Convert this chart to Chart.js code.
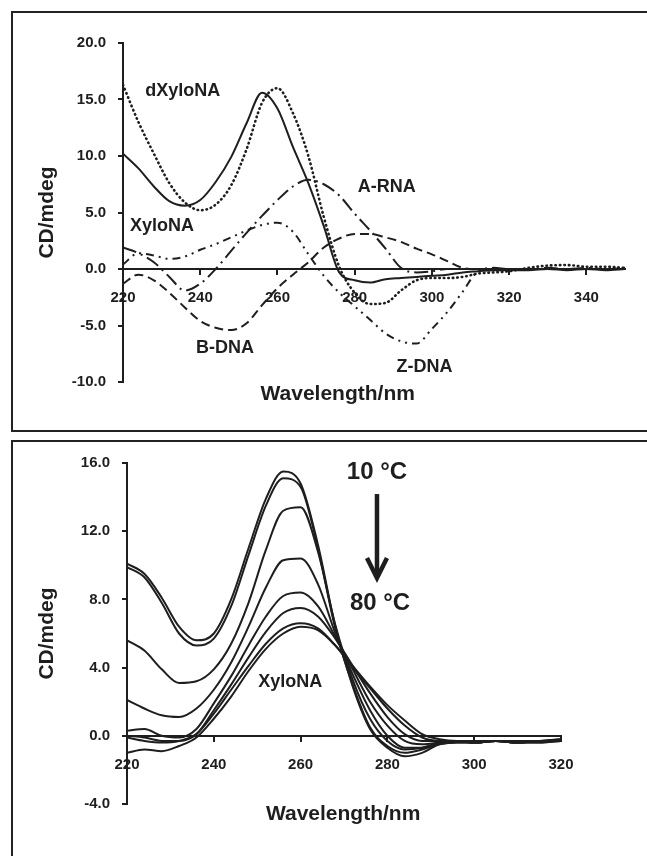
<!DOCTYPE html>
<html>
<head>
<meta charset="utf-8">
<script src="https://cdn.jsdelivr.net/npm/chart.js@4.4.1/dist/chart.umd.min.js"></script>
<style>
html, body { margin: 0; padding: 0; background: #fff; overflow: hidden; width: 647px; height: 856px; }
.box { position: absolute; border: 2px solid #222; border-right: none; box-sizing: border-box; }
#box1 { left: 11px; top: 11px; width: 700px; height: 421px; }
#box2 { left: 11px; top: 440px; width: 700px; height: 500px; border-bottom: none; }
.wrap { position: absolute; left: 0; width: 647px; }
#w1 { top: 0; height: 431px; }
#w2 { top: 441px; height: 415px; }
</style>
</head>
<body>
<div class="box" id="box1"></div>
<div class="box" id="box2"></div>
<div class="wrap" id="w1"><canvas id="c1" width="647" height="431"></canvas></div>
<div class="wrap" id="w2"><canvas id="c2" width="647" height="415"></canvas></div>
<script>
// top panel: CD spectra of the different duplexes
var topWave = [220,224,228,232,236,240,244,248,252,256,260,264,268,272,276,280,284,288,292,296,300,304,308,312,316,320,325,330,335,340,345,350];
var xyloNA  = [10.2,8.9,7.3,6.0,5.6,6.1,7.7,9.9,12.9,15.6,14.2,10.8,7.6,3.8,-0.3,-1.0,-1.2,-0.9,-0.8,-0.7,-0.6,-0.5,-0.3,-0.2,-0.1,-0.1,-0.1,0.0,-0.1,0.0,-0.1,0.0];
var dXyloNA = [16.3,13.0,10.2,7.6,5.9,5.2,5.7,7.4,10.6,14.7,16.0,13.8,10.0,4.6,0.2,-2.1,-3.1,-3.0,-1.9,-1.0,-0.8,-0.8,-0.7,-0.4,-0.3,-0.2,0.1,0.3,0.35,0.2,0.2,0.1];
var aRNA    = [1.9,1.4,0.6,-0.7,-1.9,-1.3,0.0,1.6,3.2,4.7,6.1,7.3,7.9,7.5,6.5,4.9,3.4,1.8,0.1,-0.3,-0.2,0.0,0.0,0.0,0.1,0.0,0.0,0.1,0.0,0.1,0.0,0.1];
var zDNA    = [0.4,1.4,1.2,0.9,1.1,1.7,2.2,2.8,3.4,3.9,4.1,3.3,1.3,-0.6,-2.1,-3.3,-4.5,-5.7,-6.4,-6.6,-5.3,-3.8,-2.0,-0.2,0.0,0.0,0.0,0.0,0.0,0.0,0.0,0.0];
var bDNA    = [-1.3,-0.5,-1.0,-2.1,-3.4,-4.6,-5.2,-5.4,-4.8,-3.2,-1.7,-0.5,0.6,1.9,2.7,3.1,3.1,2.8,2.4,1.8,1.3,0.7,0.1,0.0,0.0,0.0,0.0,0.0,0.0,0.0,0.0,0.0];
var topXTicks = [220,240,260,280,300,320,340];
var topYTicks = [-10,-5,0,5,10,15,20];

// bottom panel: XyloNA melting, 10 to 80 C
var botWave = [220,224,228,232,236,240,244,248,252,256,260,264,268,272,276,280,284,288,292,296,300,305,310,315,320];
var t10 = [10.1,9.5,8.1,6.4,5.6,6.0,8.0,11.0,13.9,15.5,14.8,11.2,6.4,2.9,0.4,-0.7,-1.2,-1.0,-0.5,-0.4,-0.4,-0.3,-0.4,-0.4,-0.3];
var t20 = [9.9,9.3,7.8,6.0,5.3,5.7,7.6,10.6,13.5,15.1,14.6,11.0,6.3,3.0,0.5,-0.6,-1.0,-0.8,-0.5,-0.4,-0.4,-0.3,-0.4,-0.4,-0.3];
var t30 = [5.6,5.0,3.9,3.1,3.2,3.9,5.4,7.8,10.9,13.2,13.4,10.8,6.5,3.3,1.0,-0.3,-0.8,-0.7,-0.4,-0.3,-0.4,-0.3,-0.4,-0.3,-0.3];
var t40 = [2.1,1.6,1.2,1.1,1.6,2.7,4.3,6.4,8.7,10.3,10.4,8.9,6.0,3.6,1.5,0.0,-0.7,-0.7,-0.4,-0.3,-0.4,-0.3,-0.4,-0.3,-0.3];
var t50 = [0.3,0.4,0.0,-0.1,0.4,1.9,3.5,5.3,7.0,8.2,8.4,7.6,5.8,3.9,2.0,0.6,-0.3,-0.5,-0.4,-0.3,-0.4,-0.3,-0.3,-0.3,-0.3];
var t60 = [0.0,-0.1,-0.3,-0.3,0.1,1.5,3.0,4.6,6.1,7.2,7.5,7.0,5.7,4.1,2.5,1.1,0.1,-0.3,-0.3,-0.3,-0.3,-0.3,-0.3,-0.3,-0.3];
var t70 = [-0.1,-0.3,-0.4,-0.3,0.1,1.3,2.7,4.1,5.4,6.3,6.6,6.3,5.3,4.0,2.8,1.6,0.6,-0.1,-0.3,-0.3,-0.3,-0.3,-0.4,-0.3,-0.2];
var t80 = [-1.0,-0.8,-0.9,-0.6,-0.1,1.0,2.3,3.8,5.1,6.0,6.4,6.2,5.3,4.1,2.9,1.8,0.9,0.1,-0.2,-0.3,-0.3,-0.3,-0.3,-0.3,-0.2];
var botXTicks = [220,240,260,280,300,320];
var botYTicks = [-4,0,4,8,12,16];

var FONT = '"Liberation Sans", Arial, sans-serif';
var INK = '#1e1e1e';

function pts(xs, ys) {
  return xs.map(function(x, i) { return {x: x, y: ys[i]}; });
}

function line(label, xs, ys, dash, width, cap) {
  return {
    label: label,
    data: pts(xs, ys),
    borderColor: INK,
    borderWidth: width || 2,
    borderDash: dash || [],
    borderCapStyle: cap || 'butt',
    pointRadius: 0,
    cubicInterpolationMode: 'monotone',
    fill: false
  };
}

// text labels (and the arrow) placed in data coordinates
function notes(items, arrow) {
  return {
    id: 'notes',
    afterDraw: function(chart) {
      var ctx = chart.ctx, sx = chart.scales.x, sy = chart.scales.y;
      ctx.save();
      ctx.fillStyle = INK;
      ctx.textAlign = 'center';
      ctx.textBaseline = 'middle';
      items.forEach(function(n) {
        ctx.font = 'bold ' + n.size + 'px ' + FONT;
        ctx.fillText(n.text, sx.getPixelForValue(n.x), sy.getPixelForValue(n.y));
      });
      if (arrow) {
        var ax = sx.getPixelForValue(arrow.x);
        var y0 = sy.getPixelForValue(arrow.from), y1 = sy.getPixelForValue(arrow.to);
        ctx.strokeStyle = INK;
        ctx.lineWidth = 4.5;
        ctx.beginPath();
        ctx.moveTo(ax, y0);
        ctx.lineTo(ax, y1 - 2);
        ctx.stroke();
        ctx.lineJoin = 'miter';
        ctx.beginPath();
        ctx.moveTo(ax - 10, y1 - 20);
        ctx.lineTo(ax, y1);
        ctx.lineTo(ax + 10, y1 - 20);
        ctx.stroke();
      }
      ctx.restore();
    }
  };
}

function axes(xmin, xmax, xt, ymin, ymax, yt, yWidth) {
  return {
    x: {
      type: 'linear',
      position: {y: 0},
      min: xmin, max: xmax,
      afterBuildTicks: function(s) { s.ticks = xt.map(function(v) { return {value: v}; }); },
      border: {display: true, color: INK, width: 2},
      grid: {drawOnChartArea: false, color: INK, lineWidth: 2, tickLength: 5},
      ticks: {color: INK, padding: 15, maxRotation: 0, font: {family: FONT, size: 15, weight: 'bold'},
        callback: function(v) { return v; }}
    },
    y: {
      type: 'linear',
      position: 'left',
      min: ymin, max: ymax,
      afterBuildTicks: function(s) { s.ticks = yt.map(function(v) { return {value: v}; }); },
      afterFit: function(s) { s.width = yWidth; },
      border: {display: true, color: INK, width: 2},
      grid: {drawOnChartArea: false, color: INK, lineWidth: 2, tickLength: 5},
      ticks: {color: INK, padding: 12, font: {family: FONT, size: 15, weight: 'bold'},
        callback: function(v) { return v.toFixed(1); }},
      title: {display: true, text: 'CD/mdeg', color: INK, padding: {top: 35, bottom: 0},
        font: {family: FONT, size: 21, weight: 'bold'}}
    }
  };
}

var topNotes = [
  {text: 'dXyloNA', x: 235.5, y: 15.75, size: 18},
  {text: 'A-RNA', x: 288.3, y: 7.26, size: 18},
  {text: 'XyloNA', x: 230.1, y: 3.8, size: 18},
  {text: 'B-DNA', x: 246.4, y: -7.0, size: 18},
  {text: 'Z-DNA', x: 298.1, y: -8.7, size: 18},
  {text: 'Wavelength/nm', x: 275.6, y: -11.06, size: 21}
];

new Chart('c1', {
  type: 'line',
  data: {
    datasets: [
      line('XyloNA', topWave, xyloNA, [], 2),
      line('dXyloNA', topWave, dXyloNA, [0.5, 4], 2.6, 'round'),
      line('A-RNA', topWave, aRNA, [14, 5, 2, 5], 2),
      line('Z-DNA', topWave, zDNA, [8, 5, 2, 5, 2, 5], 2),
      line('B-DNA', topWave, bDNA, [9, 5], 2)
    ]
  },
  options: {
    responsive: false,
    animation: false,
    layout: {padding: {left: 0, top: 43, right: 22, bottom: 49}},
    plugins: {legend: {display: false}, tooltip: {enabled: false}},
    scales: axes(220, 350, topXTicks, -10, 20, topYTicks, 123)
  },
  plugins: [notes(topNotes)]
});

var botNotes = [
  {text: '10 \u00B0C', x: 277.6, y: 15.47, size: 24},
  {text: '80 \u00B0C', x: 278.3, y: 7.79, size: 24},
  {text: 'XyloNA', x: 257.6, y: 3.16, size: 18},
  {text: 'Wavelength/nm', x: 269.8, y: -4.57, size: 21}
];

new Chart('c2', {
  type: 'line',
  data: {
    datasets: [t10, t20, t30, t40, t50, t60, t70, t80].map(function(v, i) {
      return line((10 + i * 10) + ' \u00B0C', botWave, v, [], 2);
    })
  },
  options: {
    responsive: false,
    animation: false,
    layout: {padding: {left: 0, top: 22, right: 86, bottom: 52}},
    plugins: {legend: {display: false}, tooltip: {enabled: false}},
    scales: axes(220, 320, botXTicks, -4, 16, botYTicks, 127)
  },
  plugins: [notes(botNotes, {x: 277.6, from: 14.18, to: 9.26})]
});
</script>
</body>
</html>
